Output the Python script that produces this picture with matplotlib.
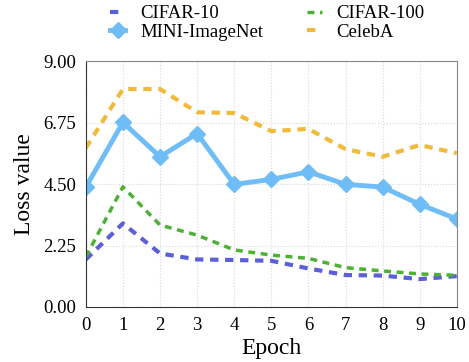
import matplotlib
matplotlib.use("Agg")
import matplotlib.pyplot as plt

plt.rcParams['font.family'] = ['Liberation Serif', 'DejaVu Serif']

epochs = list(range(11))
cifar10 = [1.74, 3.06, 1.96, 1.74, 1.72, 1.69, 1.41, 1.17, 1.15, 1.02, 1.13]
cifar100 = [1.84, 4.40, 3.00, 2.63, 2.09, 1.90, 1.78, 1.44, 1.32, 1.21, 1.16]
mini_imagenet = [4.39, 6.76, 5.50, 6.35, 4.49, 4.67, 4.95, 4.49, 4.39, 3.76, 3.22]
celeba = [5.82, 7.98, 7.98, 7.13, 7.10, 6.44, 6.52, 5.78, 5.50, 5.93, 5.63]

yticks = [0.00, 2.25, 4.50, 6.75, 9.00]

fig = plt.figure(figsize=(4.69, 3.62), dpi=100)
ax = fig.add_axes([0.183, 0.152, 0.791, 0.679])

ax.plot(epochs, cifar10, color='#5c60d8', lw=3, ls=(0, (2, 1.6)), label='CIFAR-10')
ax.plot(epochs, mini_imagenet, color='#6fbdf6', lw=3.5, marker='D', ms=8, label='MINI-ImageNet')
ax.plot(epochs, cifar100, color='#4db233', lw=2.5, ls=(0, (2, 1.6)), label='CIFAR-100')
ax.plot(epochs, celeba, color='#f1ba3b', lw=3, ls=(0, (2, 1.6)), label='CelebA')

ax.set_xlim(0, 10)
ax.set_ylim(0, 9)
ax.set_xticks(epochs)
ax.set_yticks(yticks)
ax.set_yticklabels([f'{v:.2f}' for v in yticks])
ax.tick_params(length=0, labelsize=13.5, pad=7)
ax.grid(True, ls=':', color='#d8d8d8', lw=0.8)

for s in ['left', 'bottom']:
    ax.spines[s].set_color('#333333')
for s in ['top', 'right']:
    ax.spines[s].set_color('#888888')

ax.set_xlabel('Epoch', fontsize=17, labelpad=3)
ax.set_ylabel('Loss value', fontsize=17, labelpad=6)

ax.legend(loc='lower center', bbox_to_anchor=(0.49, 1.0), ncol=2, frameon=False,
          fontsize=13.5, handlelength=0.8, handletextpad=0.8, columnspacing=2.3,
          labelspacing=0.05, borderaxespad=0.7)

fig.savefig('out.png', dpi=100)
